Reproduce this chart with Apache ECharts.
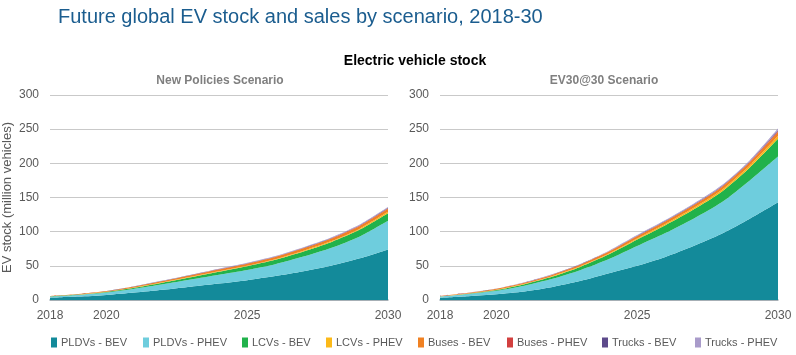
<!DOCTYPE html>
<html>
<head>
<meta charset="utf-8">
<script src="https://cdn.jsdelivr.net/npm/echarts@6/dist/echarts.min.js"></script>
<style>html,body{margin:0;padding:0;background:#fff;}#c{width:796px;height:355px;}</style>
</head>
<body>
<div id="c"></div>
<script>
// ---- data ----
var years = ['2018','2019','2020','2021','2022','2023','2024','2025','2026','2027','2028','2029','2030'];
var shownYears = ['2018','2020','2025','2030'];
var seriesNames = ['PLDVs - BEV','PLDVs - PHEV','LCVs - BEV','LCVs - PHEV','Buses - BEV','Buses - PHEV','Trucks - BEV','Trucks - PHEV'];

// New Policies Scenario (million vehicles)
var nps_pldvBev  = [3.3, 5, 7.5, 11, 15, 19.5, 24, 29, 35, 42, 50.5, 61, 74];
var nps_pldvPhev = [1.8, 2.5, 3.5, 5.5, 8, 10.5, 13, 15, 17.5, 21.5, 26, 32, 42];
var nps_lcvBev   = [0.25, 0.4, 0.8, 1.5, 2.4, 3.3, 4.3, 5.3, 6.3, 7.5, 8.5, 10, 11];
var nps_lcvPhev  = [0.05, 0.1, 0.2, 0.3, 0.45, 0.55, 0.7, 0.8, 0.9, 1.1, 1.2, 1.4, 2];
var nps_busBev   = [0.45, 0.7, 1.0, 1.4, 1.9, 2.3, 2.7, 3.0, 3.2, 3.5, 3.8, 4, 4.5];
var nps_busPhev  = [0.05, 0.07, 0.1, 0.15, 0.2, 0.25, 0.3, 0.35, 0.4, 0.45, 0.5, 0.5, 0.6];
var nps_truckBev = [0.02, 0.03, 0.05, 0.1, 0.15, 0.2, 0.25, 0.3, 0.35, 0.4, 0.5, 0.6, 0.8];
var nps_truckPhev= [0.03, 0.05, 0.1, 0.2, 0.3, 0.4, 0.5, 0.6, 0.7, 0.8, 0.9, 1.0, 1.2];

// EV30@30 Scenario (million vehicles)
var ev_pldvBev  = [3.3, 5.5, 8.5, 12.5, 19, 28, 39, 50, 63, 79, 97, 119, 143];
var ev_pldvPhev = [1.8, 3.2, 5, 8.5, 12, 16, 21, 29, 35, 40, 46, 56, 67];
var ev_lcvBev   = [0.25, 0.6, 1.2, 2.2, 3.4, 4.8, 6.8, 9.5, 11.5, 13.5, 15.5, 19, 26];
var ev_lcvPhev  = [0.05, 0.15, 0.3, 0.45, 0.7, 0.9, 1.2, 1.6, 1.9, 2.2, 2.6, 3, 4];
var ev_busBev   = [0.45, 0.9, 1.3, 1.6, 2.0, 2.4, 2.8, 3.2, 3.5, 3.8, 4, 4.5, 6];
var ev_busPhev  = [0.05, 0.1, 0.15, 0.2, 0.25, 0.3, 0.4, 0.45, 0.5, 0.6, 0.7, 0.8, 1.2];
var ev_truckBev = [0.02, 0.04, 0.06, 0.1, 0.15, 0.2, 0.3, 0.4, 0.5, 0.6, 0.7, 0.8, 1.3];
var ev_truckPhev= [0.03, 0.1, 0.2, 0.3, 0.4, 0.5, 0.7, 0.85, 1.0, 1.1, 1.3, 1.5, 2.5];

var yTicks = [0, 50, 100, 150, 200, 250, 300];

// ---- styling ----
var colors = ['#138a9a','#6ecddd','#21b24b','#fcb918','#f08122','#d2403f','#5d4a8b','#a99bca'];
var FONT = 'Liberation Sans';
var npsData = [nps_pldvBev, nps_pldvPhev, nps_lcvBev, nps_lcvPhev, nps_busBev, nps_busPhev, nps_truckBev, nps_truckPhev];
var evData  = [ev_pldvBev, ev_pldvPhev, ev_lcvBev, ev_lcvPhev, ev_busBev, ev_busPhev, ev_truckBev, ev_truckPhev];

var chart = echarts.init(document.getElementById('c'), null, {renderer: 'canvas'});

function xAxis(gi) {
  return {
    type: 'category', gridIndex: gi, data: years, boundaryGap: false,
    axisLine: {show: true, lineStyle: {color: '#9aa6ae', width: 1.5}},
    axisTick: {show: false},
    axisLabel: {
      color: '#595959', fontFamily: FONT, fontSize: 12, margin: 10,
      interval: function (i, v) { return shownYears.indexOf(v) >= 0; }
    },
    splitLine: {show: false}
  };
}
function yAxis(gi, withName) {
  var a = {
    type: 'value', gridIndex: gi, min: yTicks[0], max: yTicks[yTicks.length - 1], interval: 50,
    axisLine: {show: false}, axisTick: {show: false},
    axisLabel: {color: '#595959', fontFamily: FONT, fontSize: 12, margin: 11},
    splitLine: {lineStyle: {color: '#c9c9c9', width: 1}}
  };
  if (withName) {
    a.name = 'EV stock (million vehicles)';
    a.nameLocation = 'middle';
    a.nameGap = 36;
    a.nameTextStyle = {color: '#595959', fontFamily: FONT, fontSize: 13};
  }
  return a;
}

var series = [];
function addSeries(dataSet, gi, stackName) {
  for (var i = 0; i < seriesNames.length; i++) {
    series.push({
      name: seriesNames[i], type: 'line', stack: stackName,
      xAxisIndex: gi, yAxisIndex: gi,
      data: dataSet[i], symbol: 'none', smooth: 0.25,
      lineStyle: {width: 0},
      areaStyle: {color: colors[i], opacity: 1},
      itemStyle: {color: colors[i]},
      emphasis: {disabled: true}
    });
  }
}
addSeries(npsData, 0, 'nps');
addSeries(evData, 1, 'ev');

var legendLefts = [46, 138, 237, 321, 413, 502, 597, 690];
var legends = seriesNames.map(function (n, i) {
  return {
    data: [n], left: legendLefts[i], top: 332, itemWidth: 6, itemHeight: 10, itemGap: 4,
    icon: 'rect', textStyle: {color: '#595959', fontFamily: FONT, fontSize: 11, padding: [0, 0, 0, -1]},
    selectedMode: false
  };
});

chart.setOption({
  animation: false,
  color: colors,
  title: [
    {text: 'Future global EV stock and sales by scenario, 2018-30', left: 53, top: 2,
     textStyle: {color: '#1b5d8f', fontFamily: FONT, fontSize: 20, fontWeight: 'normal'}},
    {text: 'Electric vehicle stock', left: 410, top: 49, textAlign: 'center',
     textStyle: {color: '#000', fontFamily: FONT, fontSize: 14, fontWeight: 'bold'}},
    {text: 'New Policies Scenario', left: 215, top: 70, textAlign: 'center',
     textStyle: {color: '#7f7f7f', fontFamily: FONT, fontSize: 12, fontWeight: 'bold'}},
    {text: 'EV30@30 Scenario', left: 599, top: 70, textAlign: 'center',
     textStyle: {color: '#7f7f7f', fontFamily: FONT, fontSize: 12, fontWeight: 'bold'}}
  ],
  legend: legends,
  grid: [
    {left: 50, right: 408, top: 95, bottom: 55},
    {left: 440, right: 18, top: 95, bottom: 55}
  ],
  xAxis: [xAxis(0), xAxis(1)],
  yAxis: [yAxis(0, true), yAxis(1, false)],
  series: series
});
</script>
</body>
</html>
